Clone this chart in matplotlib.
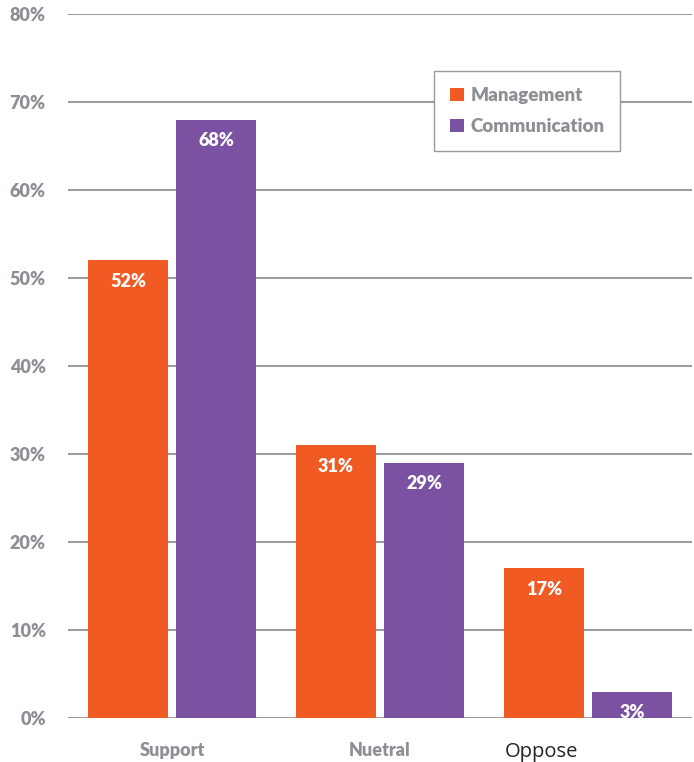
import matplotlib
matplotlib.use("Agg")
import matplotlib.pyplot as plt
import matplotlib.transforms as mtransforms
import numpy as np

categories = ["Support", "Nuetral", "Oppose"]
management = [52, 31, 17]
communication = [68, 29, 3]
series_names = ["Management", "Communication"]
yticks = [0, 10, 20, 30, 40, 50, 60, 70, 80]

ORANGE = "#F15A22"
PURPLE = "#7B52A1"
GRAY = "#8C8F94"
FONT = "Lato"

fig = plt.figure(figsize=(6.94, 7.62), dpi=100)
ax = fig.add_axes([68/694, 44/762, (692-68)/694, (718-14)/762])

x = np.arange(len(categories))
w = 0.385
off = 0.212
b1 = ax.bar(x - off, management, w, color=ORANGE, label=series_names[0], zorder=3)
b2 = ax.bar(x + off, communication, w, color=PURPLE, label=series_names[1], zorder=3)

for bars, vals in ((b1, management), (b2, communication)):
    for r, v in zip(bars, vals):
        ax.annotate(f"{v}%", (r.get_x() + r.get_width()/2, v), xytext=(0, -15),
                    textcoords="offset points", ha="center", va="center",
                    color="white", fontsize=13, fontweight="heavy", family=FONT, zorder=4)

ax.set_ylim(0, 80)
ax.set_xlim(-0.5, 2.5)
ax.set_yticks(yticks)
ax.set_yticklabels([f"{t}%" for t in yticks], family=FONT, fontweight="heavy",
                   fontsize=13, color=GRAY)
ax.grid(axis="y", color="#999999", linewidth=1.4, zorder=0)
ax.set_axisbelow(True)
for s in ax.spines.values():
    s.set_visible(False)
ax.tick_params(axis="y", length=0, pad=16)
ax.tick_params(axis="x", length=0, pad=17)
ax.set_xticks(x)
ax.set_xticklabels(categories, family=FONT, fontweight="heavy", fontsize=13, color=GRAY)
lab = ax.get_xticklabels()[2]
lab.set_fontweight("normal")
lab.set_color("#222222")
lab.set_family("Open Sans")
lab.set_fontsize(14.5)
lab.set_transform(lab.get_transform() + mtransforms.ScaledTranslation(-47/100, 0, fig.dpi_scale_trans))

leg = ax.legend(loc="upper left", bbox_to_anchor=(0.586, 0.919), borderaxespad=0,
                frameon=True, fancybox=False,
                edgecolor="#999999", framealpha=1, borderpad=0.85, handlelength=0.75,
                handleheight=0.75, handletextpad=0.35, labelspacing=0.75,
                prop={"family": FONT, "weight": "heavy", "size": 13.5})
leg.get_frame().set_linewidth(1.0)
for t in leg.get_texts():
    t.set_color(GRAY)
leg.set_zorder(5)

fig.savefig("out.png", dpi=100)
